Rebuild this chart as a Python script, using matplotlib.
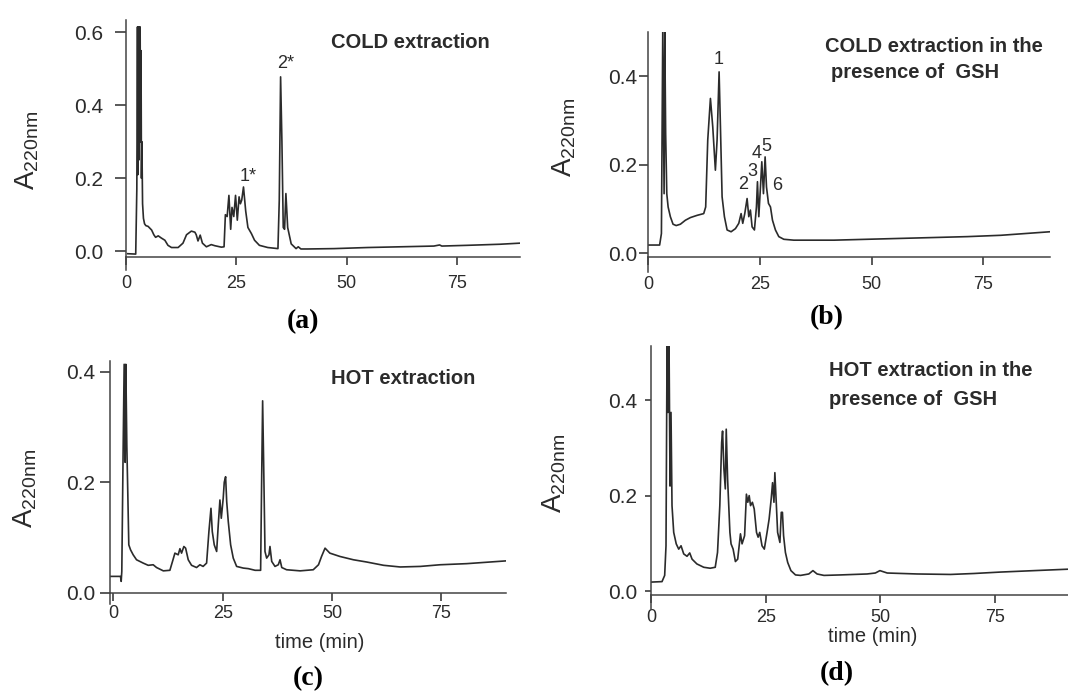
import matplotlib.pyplot as plt

W, H = 1068, 693
plt.rcParams['font.family'] = ['Liberation Sans', 'DejaVu Sans']
plt.rcParams['mathtext.fontset'] = 'custom'
plt.rcParams['mathtext.rm'] = 'Liberation Sans'
INK = '#2b2b2b'
AXC = '#444444'

# (a) COLD extraction
a_t = [0.4, 2.2, 2.45, 2.6, 2.7, 2.8, 2.9, 3.0, 3.1, 3.2, 3.3, 3.4, 3.5, 3.6, 3.75,
       3.95, 4.2, 4.5, 5.0, 5.8, 6.3, 6.7, 7.3, 8.0, 8.8, 9.5, 10.3, 11.8, 12.9, 13.7,
       14.8, 15.6, 15.9, 16.3, 16.8, 17.3, 18.2, 19.3, 20.1, 21.6, 22.2, 22.5, 22.9,
       23.3, 23.7, 24.0, 24.4, 24.8, 25.2, 25.6, 25.9, 26.2, 26.6, 27.1, 27.6, 28.4,
       29.1, 30.2, 32.1, 34.4, 34.7, 35.0, 35.3, 35.6, 35.9, 36.2, 36.6, 37.4, 38.5,
       39.0, 39.6, 41.1, 47.1, 54.7, 62.2, 69.7, 71.0, 71.5, 77.2, 84.7, 89.2]
a_y = [-0.007, -0.008, 0.17, 0.615, 0.21, 0.615, 0.25, 0.615, 0.4, 0.615, 0.3, 0.55,
       0.2, 0.3, 0.13, 0.09, 0.075, 0.07, 0.068, 0.058, 0.045, 0.038, 0.042, 0.036,
       0.03, 0.016, 0.01, 0.01, 0.022, 0.045, 0.055, 0.052, 0.045, 0.028,
       0.044, 0.022, 0.012, 0.018, 0.015, 0.011, 0.012, 0.1, 0.095, 0.153, 0.06,
       0.12, 0.095, 0.153, 0.085, 0.149, 0.13, 0.14, 0.176, 0.11, 0.065, 0.048,
       0.03, 0.016, 0.01, 0.007, 0.14, 0.478, 0.3, 0.065, 0.06, 0.158, 0.065, 0.02,
       0.007, 0.012, 0.006, 0.006, 0.007, 0.01, 0.012, 0.014, 0.017, 0.014, 0.016,
       0.019, 0.022]

# (b) COLD extraction + GSH
b_t = [0.0, 2.6, 3.0, 3.3, 3.6, 3.75, 3.95, 4.2, 4.5, 5.0, 5.6, 6.3, 7.24,
       8.36, 9.48, 10.97, 12.46, 12.9, 13.36, 13.96, 14.48, 15.07, 15.45, 15.9, 16.2,
       16.57, 17.09, 17.69, 18.58, 19.55, 20.3, 20.82, 21.19, 21.64, 22.16, 22.54,
       22.9, 23.28, 23.8, 24.25, 24.48, 24.78, 25.15, 25.45, 25.82, 26.19, 26.5,
       26.94, 27.39, 27.84, 28.5, 29.25, 30.37, 32.6, 41.6, 49.0, 56.5, 64.0, 71.4,
       78.9, 89.9]
b_y = [0.019, 0.019, 0.045, 0.5, 0.135, 0.5, 0.27, 0.135, 0.105, 0.083, 0.066, 0.063,
       0.066, 0.075, 0.081, 0.086, 0.09, 0.105, 0.256, 0.35, 0.286, 0.188, 0.256,
       0.41, 0.286, 0.128, 0.083, 0.053, 0.049, 0.056, 0.068, 0.09, 0.068, 0.09,
       0.124, 0.083, 0.098, 0.06, 0.053, 0.105, 0.162, 0.083, 0.15, 0.207, 0.135,
       0.218, 0.15, 0.113, 0.105, 0.075, 0.053, 0.038, 0.032, 0.03, 0.03, 0.032,
       0.034, 0.036, 0.038, 0.041, 0.049]
b_peaks = ['1', '2', '3', '4', '5', '6']
b_peak_t = [15.8, 21.3, 23.3, 24.4, 26.4, 28.9]
b_peak_y = [0.437, 0.156, 0.184, 0.226, 0.242, 0.154]

# (c) HOT extraction
c_t = [-0.8, 1.6, 1.76, 1.9, 2.2, 2.44, 2.67, 2.82, 3.05, 3.28, 3.5, 3.9, 4.5, 5.27,
       6.8, 7.94, 9.08, 9.85, 11.4, 12.9, 13.5, 14.05, 14.8, 15.2, 15.57, 16.1, 16.5,
       17.1, 17.86, 19.0, 19.77, 20.5, 21.3, 21.83, 22.3, 22.6, 23.05, 23.6, 23.97,
       24.35, 24.66, 25.1, 25.34, 25.65, 25.9, 26.26, 26.8, 27.4, 28.17, 29.7, 30.84,
       32.4, 33.66, 33.9, 34.12, 34.35, 34.66, 35.04, 35.57, 35.8, 36.2, 36.95, 37.7,
       38.1, 38.5, 39.6, 42.7, 45.7, 46.9, 47.6, 48.4, 49.5, 51.8, 54.9, 57.9, 61.8,
       65.6, 70.2, 74.7, 80.8, 89.8]
c_y = [0.03, 0.03, 0.021, 0.039, 0.254, 0.413, 0.236, 0.413, 0.266, 0.177, 0.087,
       0.078, 0.069, 0.06, 0.054, 0.05, 0.051, 0.046, 0.04, 0.041, 0.057, 0.072, 0.069,
       0.08, 0.072, 0.084, 0.081, 0.06, 0.05, 0.046, 0.051, 0.048, 0.054, 0.111, 0.153,
       0.111, 0.087, 0.075, 0.123, 0.168, 0.135, 0.171, 0.2, 0.21, 0.165, 0.129, 0.087,
       0.063, 0.048, 0.045, 0.044, 0.041, 0.041, 0.207, 0.347, 0.236, 0.075, 0.063,
       0.069, 0.084, 0.057, 0.048, 0.051, 0.06, 0.046, 0.042, 0.04, 0.042, 0.051,
       0.066, 0.081, 0.072, 0.066, 0.06, 0.056, 0.05, 0.047, 0.048, 0.051, 0.053,
       0.058]

# (d) HOT extraction + GSH
d_t = [0.0, 2.4, 2.98, 3.27, 3.5, 3.7, 3.93, 4.15, 4.36, 4.58, 4.95, 5.5, 6.04, 6.55,
       7.13, 7.85, 8.44, 8.95, 10.0, 11.5, 12.9, 14.0, 14.5, 15.0, 15.4, 15.6, 15.9,
       16.2, 16.4, 16.7, 17.2, 17.45, 17.9, 18.4, 18.9, 19.5, 19.85, 20.4, 20.8, 21.1,
       21.4, 21.7, 22.1, 22.5, 23.0, 23.35, 23.7, 24.2, 24.7, 25.3, 25.75, 26.2, 26.5,
       26.8, 27.0, 27.3, 27.6, 28.1, 28.4, 28.65, 28.9, 29.3, 29.8, 30.5, 31.5, 32.6,
       34.4, 35.3, 36.2, 37.7, 41.3, 47.1, 48.9, 49.9, 51.5, 58.0, 65.3, 70.4, 76.2,
       83.5, 90.9]
d_y = [0.019, 0.02, 0.033, 0.095, 0.52, 0.374, 0.52, 0.22, 0.374, 0.179, 0.123, 0.099,
       0.088, 0.095, 0.078, 0.073, 0.08, 0.067, 0.057, 0.05, 0.048, 0.05, 0.081, 0.179,
       0.311, 0.335, 0.255, 0.214, 0.339, 0.234, 0.123, 0.099, 0.088, 0.062, 0.067,
       0.12, 0.099, 0.116, 0.203, 0.186, 0.2, 0.179, 0.186, 0.172, 0.123, 0.113, 0.123,
       0.095, 0.088, 0.123, 0.151, 0.193, 0.227, 0.186, 0.248, 0.186, 0.123, 0.102,
       0.165, 0.165, 0.116, 0.081, 0.06, 0.043, 0.034, 0.033, 0.036, 0.043, 0.036,
       0.033, 0.034, 0.036, 0.038, 0.043, 0.038, 0.036, 0.035, 0.037, 0.04, 0.043,
       0.046]

x_ticks = [0, 25, 50, 75]

fig = plt.figure(figsize=(W / 100, H / 100), dpi=100)


def px_text(x, y, s, **kw):
    fig.text(x / W, 1 - y / H, s, color=INK, **kw)


def panel(box, t, y, xlim, ylim, yticks, ylen, ypad, xpad, drop):
    l, top, r, b = box
    ax = fig.add_axes([l / W, 1 - b / H, (r - l) / W, (b - top) / H])
    ax.plot(t, y, color=INK, lw=1.2)
    ax.set_xlim(xlim)
    ax.set_ylim(ylim)
    ax.patch.set_alpha(0)
    for s in ['top', 'right']:
        ax.spines[s].set_visible(False)
    for s in ['left', 'bottom']:
        ax.spines[s].set_linewidth(1.1)
        ax.spines[s].set_color(AXC)
    ax.set_xticks(x_ticks)
    ax.set_yticks(yticks)
    ax.set_yticklabels(['%.1f' % v for v in yticks])
    ax.tick_params(axis='y', direction='out', length=ylen, pad=ypad, labelsize=15,
                   width=1.1, color=INK, labelcolor=INK)
    ax.tick_params(axis='x', direction='out', length=6, pad=xpad, labelsize=13,
                   width=1.1, color=INK, labelcolor=INK)
    ax.plot([0, 0], [0, -drop], transform=ax.transAxes, clip_on=False, color=AXC, lw=1.1)
    return ax


ax_a = panel((126, 20, 520, 257), a_t, a_y, (0.3, 89.2), (-0.016, 0.634),
             [0.0, 0.2, 0.4, 0.6], 8, 8.5, 7, 0.055)
ax_a.text(27.6, 0.206, '1*', ha='center', va='center', fontsize=13, color=INK)
ax_a.text(36.2, 0.515, '2*', ha='center', va='center', fontsize=13, color=INK)

ax_b = panel((648, 32, 1050, 257), b_t, b_y, (0, 89.9), (-0.008, 0.5),
             [0.0, 0.2, 0.4], 6.5, 1.5, 8, 0.067)
for lab, xt, yv in zip(b_peaks, b_peak_t, b_peak_y):
    ax_b.text(xt, yv, lab, ha='center', va='center', fontsize=13, color=INK)

ax_c = panel((110, 361, 506, 593), c_t, c_y, (-0.8, 89.8), (0.0, 0.419),
             [0.0, 0.2, 0.4], 7, 3.6, 2.5, 0.047)

ax_d = panel((651, 346, 1068, 595), d_t, d_y, (0, 90.9), (-0.008, 0.513),
             [0.0, 0.2, 0.4], 4.3, 5.8, 4, 0.056)

# panel titles
px_text(410, 43, 'COLD extraction', ha='center', va='center', fontsize=14.5, weight='bold')
px_text(825, 47, 'COLD extraction in the', ha='left', va='center', fontsize=14.5, weight='bold')
px_text(831, 72, 'presence of  GSH', ha='left', va='center', fontsize=14.5, weight='bold')
px_text(403, 378, 'HOT extraction', ha='center', va='center', fontsize=14.5, weight='bold')
px_text(829, 371, 'HOT extraction in the', ha='left', va='center', fontsize=14.5, weight='bold')
px_text(829, 399, 'presence of  GSH', ha='left', va='center', fontsize=14.5, weight='bold')

# y labels
ylab = r'A$_{\mathregular{220nm}}$'
for xp, yp in [(27, 150), (564, 137), (25, 488), (554, 473)]:
    px_text(xp, yp, ylab, rotation=90, ha='center', va='center', fontsize=20)

# x labels
px_text(320, 643, 'time (min)', ha='center', va='center', fontsize=14.5)
px_text(873, 636, 'time (min)', ha='center', va='center', fontsize=14.5)

# panel letters
for lab, xp, yp in [('a', 303, 322), ('b', 827, 318), ('c', 308, 679), ('d', 837, 674)]:
    fig.text(xp / W, 1 - yp / H, '(' + lab + ')', ha='center', va='center',
             fontsize=20, weight='bold', family=['Liberation Serif', 'DejaVu Serif'],
             color='black')

fig.savefig('out.png', dpi=100)
